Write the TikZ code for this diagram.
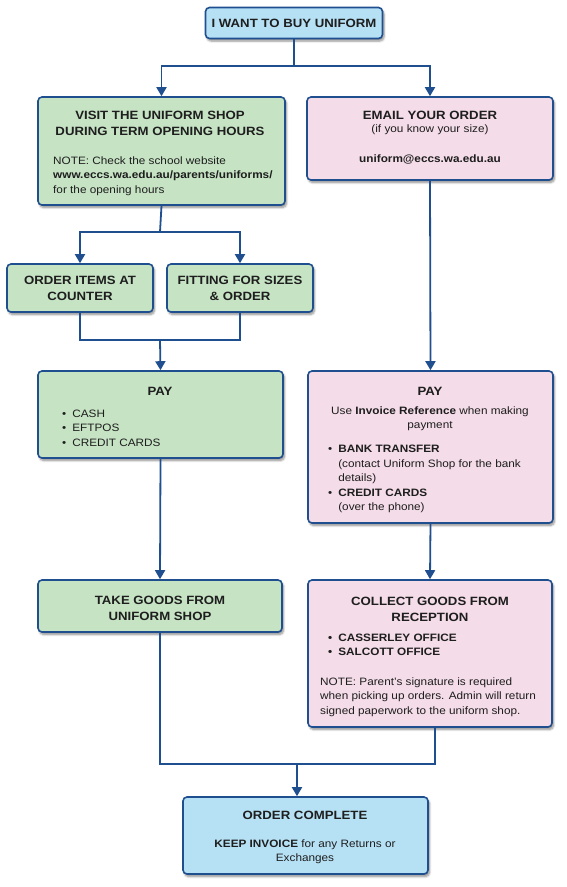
\documentclass[tikz,border=0pt]{standalone}
\usepackage{fontspec}
\setmainfont{Liberation Sans}[FakeStretch=1.1]
\usetikzlibrary{arrows.meta,shadows.blur}
\definecolor{bordc}{HTML}{1F4F8F}
\definecolor{lblue}{HTML}{B6E1F5}
\definecolor{lgreen}{HTML}{C6E3C4}
\definecolor{lpink}{HTML}{F4DCE8}
\definecolor{txt}{HTML}{1E1E1E}
\tikzset{
  box/.style={draw=bordc, line width=1.6pt, rounded corners=4pt, inner sep=0pt,
    blur shadow={shadow xshift=1.5pt, shadow yshift=-2.5pt, shadow blur steps=6, shadow opacity=45}},
  bluebox/.style={box, fill=lblue},
  greenbox/.style={box, fill=lgreen},
  pinkbox/.style={box, fill=lpink},
  ttl/.style={inner sep=0pt, text=txt, align=center, font=\fontsize{12}{16}\selectfont\bfseries},
  body/.style={inner sep=0pt, text=txt, font=\fontsize{10.7}{14.5}\selectfont},
  conn/.style={draw=bordc, line width=1.8pt},
  arr/.style={conn, -{Triangle[width=10pt,length=9pt]}},
}
\begin{document}
\begin{tikzpicture}[x=1pt,y=-1pt]
\useasboundingbox (0,0) rectangle (566,887);
% boxes
\node[bluebox, minimum width=177pt, minimum height=31pt] (top) at (294,23) {};
\node[greenbox, minimum width=247pt, minimum height=108pt] (visit) at (161.5,151) {};
\node[pinkbox, minimum width=246pt, minimum height=83pt] (email) at (430,138.5) {};
\node[greenbox, minimum width=146pt, minimum height=48pt] (order) at (80,288) {};
\node[greenbox, minimum width=146pt, minimum height=48pt] (fit) at (240,288) {};
\node[greenbox, minimum width=245pt, minimum height=87pt] (paygreen) at (160.5,414.5) {};
\node[pinkbox, minimum width=245pt, minimum height=152pt] (paypink) at (430.5,447) {};
\node[greenbox, minimum width=244pt, minimum height=52pt] (take) at (160,606) {};
\node[pinkbox, minimum width=244pt, minimum height=147pt] (collect) at (430,653.5) {};
\node[bluebox, minimum width=245pt, minimum height=77pt] (final) at (305.5,835.5) {};
% texts
\node[ttl] (ttop) at (top) {I WANT TO BUY UNIFORM};
\node[ttl] (tvisit) at (160,123) {VISIT THE UNIFORM SHOP\\DURING TERM OPENING HOURS};
\node[body, anchor=west, align=left] (nvisit) at (53,176) {NOTE: Check the school website\\\textbf{www.eccs.wa.edu.au/parents/uniforms/}\\for the opening hours};
\node[ttl] (temail) at (430,115) {EMAIL YOUR ORDER};
\node[body] (semail) at (430,130) {(if you know your size)};
\node[body, font=\fontsize{10.7}{14.5}\selectfont\bfseries] (aemail) at (430,159) {uniform@eccs.wa.edu.au};
\node[ttl] (torder) at (order) {ORDER ITEMS AT\\COUNTER};
\node[ttl] (tfit) at (fit) {FITTING FOR SIZES\\\& ORDER};
\node[ttl] (tpayg) at (160,391) {PAY};
\node[body, anchor=west, align=left] (lpayg) at (62,428) {\textbullet\hspace{6pt}CASH\\\textbullet\hspace{6pt}EFTPOS\\\textbullet\hspace{6pt}CREDIT CARDS};
\node[ttl] (tpayp) at (430,391) {PAY};
\node[body, align=center] (upayp) at (430,418.5) {Use \textbf{Invoice Reference} when making\\payment};
\node[body, anchor=west, align=left] (lpayp) at (328,479) {\textbullet\hspace{6pt}\textbf{BANK TRANSFER}\\\hphantom{\textbullet\hspace{6pt}}(contact Uniform Shop for the bank\\\hphantom{\textbullet\hspace{6pt}}details)\\\textbullet\hspace{6pt}\textbf{CREDIT CARDS}\\\hphantom{\textbullet\hspace{6pt}}(over the phone)};
\node[ttl] (ttake) at (160,608) {TAKE GOODS FROM\\UNIFORM SHOP};
\node[ttl] (tcoll) at (430,609) {COLLECT GOODS FROM\\RECEPTION};
\node[body, anchor=west, align=left, font=\fontsize{10.7}{14.5}\selectfont\bfseries] (lcoll) at (328,645) {\textbullet\hspace{6pt}CASSERLEY OFFICE\\\textbullet\hspace{6pt}SALCOTT OFFICE};
\node[body, anchor=west, align=left] (ncoll) at (320,697) {NOTE: Parent’s signature is required\\when picking up orders. Admin will return\\signed paperwork to the uniform shop.};
\node[ttl] (tfinal) at (305,815) {ORDER COMPLETE};
\node[body, align=center] (kfinal) at (305,851.5) {\textbf{KEEP INVOICE} for any Returns or\\Exchanges};
% connectors
\coordinate (j1) at (294,66);
\coordinate (j2) at (160,232);
\coordinate (j3) at (160,340);
\coordinate (j4) at (297,764);
\draw[conn] (top.south) -- (j1);
\draw[arr] (j1) -| (visit.north);
\draw[arr] (j1) -| (email.north);
\draw[conn] (visit.south) -- (j2);
\draw[arr] (j2) -| (order.north);
\draw[arr] (j2) -| (fit.north);
\draw[conn] (order.south) |- (j3);
\draw[conn] (fit.south) |- (j3);
\draw[arr] (j3) -- (paygreen.north);
\draw[arr] (email.south) -- (paypink.north);
\draw[arr] (paygreen.south) -- (take.north);
\draw[arr] (paypink.south) -- (collect.north);
\draw[conn] (take.south) |- (j4);
\draw[conn] ([xshift=5pt]collect.south) |- (j4);
\draw[arr] (j4) -- ([xshift=-8.5pt]final.north);
\end{tikzpicture}
\end{document}
